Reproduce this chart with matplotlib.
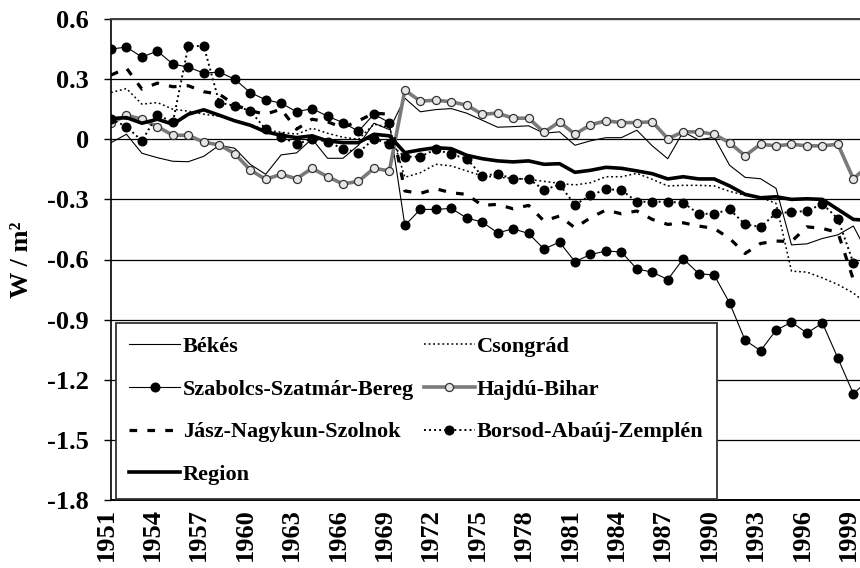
"""
Radiative forcing trend by county, 1951-1999 (W/m2).
Line chart re-drawn from the reference figure; values read off the picture.
The 2000 values only give the short clipped stub at the right edge.
"""

import numpy as np
import matplotlib
matplotlib.use("Agg")
import matplotlib.pyplot as plt
import matplotlib.transforms as mtransforms

OUT_PNG = "out.png"

years = list(range(1951, 2001))

bekes = [
    -0.017, 0.025, -0.07, -0.092, -0.11, -0.112, -0.085, -0.03, -0.045, -0.125,
    -0.175, -0.078, -0.068, 0.002, -0.095, -0.095, -0.03, 0.08, 0.048, 0.205,
    0.137, 0.148, 0.153, 0.13, 0.095, 0.06, 0.063, 0.067, 0.03, 0.037,
    -0.03, -0.008, 0.008, 0.008, 0.045, -0.033, -0.097, 0.037, -0.003, 0.01,
    -0.13, -0.19, -0.197, -0.245, -0.527, -0.522, -0.495, -0.477, -0.433, -0.58,
]
csongrad = [
    0.233, 0.253, 0.175, 0.183, 0.15, 0.14, 0.125, 0.115, 0.095, 0.075,
    0.045, 0.035, 0.025, 0.055, 0.03, 0.01, 0.0, 0.075, 0.06, -0.19,
    -0.167, -0.125, -0.133, -0.158, -0.183, -0.19, -0.195, -0.2, -0.21, -0.22,
    -0.228, -0.217, -0.187, -0.187, -0.17, -0.2, -0.233, -0.23, -0.23, -0.233,
    -0.26, -0.28, -0.29, -0.32, -0.658, -0.663, -0.692, -0.725, -0.767, -0.83,
]
szabolcs = [
    0.45, 0.46, 0.41, 0.44, 0.375, 0.36, 0.33, 0.335, 0.30, 0.233,
    0.197, 0.18, 0.137, 0.153, 0.115, 0.083, 0.04, 0.125, 0.083, -0.43,
    -0.35, -0.35, -0.345, -0.393, -0.413, -0.467, -0.447, -0.47, -0.548, -0.513,
    -0.611, -0.575, -0.558, -0.562, -0.647, -0.663, -0.70, -0.597, -0.67, -0.678,
    -0.817, -1.003, -1.055, -0.953, -0.913, -0.967, -0.917, -1.092, -1.27, -1.20,
]
hajdu = [
    0.08, 0.12, 0.10, 0.063, 0.02, 0.02, -0.015, -0.028, -0.072, -0.153,
    -0.20, -0.175, -0.197, -0.145, -0.187, -0.223, -0.21, -0.145, -0.158, 0.245,
    0.19, 0.195, 0.187, 0.17, 0.125, 0.13, 0.105, 0.105, 0.035, 0.087,
    0.025, 0.072, 0.092, 0.083, 0.083, 0.087, 0.003, 0.037, 0.037, 0.025,
    -0.018, -0.082, -0.025, -0.033, -0.025, -0.033, -0.033, -0.025, -0.197, -0.13,
]
jasz = [
    0.32, 0.355, 0.25, 0.28, 0.262, 0.267, 0.237, 0.225, 0.172, 0.142,
    0.125, 0.15, 0.05, 0.10, 0.087, 0.058, 0.092, 0.13, 0.125, -0.258,
    -0.27, -0.247, -0.267, -0.275, -0.33, -0.325, -0.347, -0.33, -0.408, -0.383,
    -0.442, -0.392, -0.353, -0.372, -0.358, -0.40, -0.425, -0.417, -0.433, -0.445,
    -0.495, -0.57, -0.52, -0.508, -0.51, -0.437, -0.445, -0.465, -0.70, -0.71,
]
borsod = [
    0.10, 0.063, -0.008, 0.122, 0.085, 0.465, 0.465, 0.183, 0.167, 0.142,
    0.05, 0.013, -0.025, 0.003, -0.013, -0.047, -0.067, 0.003, -0.025, -0.087,
    -0.087, -0.05, -0.075, -0.097, -0.183, -0.172, -0.198, -0.197, -0.253, -0.226,
    -0.327, -0.28, -0.25, -0.253, -0.312, -0.312, -0.312, -0.317, -0.372, -0.372,
    -0.35, -0.425, -0.437, -0.37, -0.363, -0.358, -0.322, -0.397, -0.617, -0.62,
]
region = [
    0.103, 0.108, 0.08, 0.10, 0.075, 0.125, 0.147, 0.12, 0.092, 0.07,
    0.037, 0.02, 0.008, 0.017, -0.008, -0.017, -0.017, 0.025, 0.017, -0.067,
    -0.053, -0.042, -0.047, -0.08, -0.097, -0.108, -0.113, -0.108, -0.125, -0.122,
    -0.165, -0.155, -0.14, -0.145, -0.158, -0.172, -0.198, -0.187, -0.198, -0.198,
    -0.233, -0.275, -0.292, -0.287, -0.30, -0.297, -0.30, -0.35, -0.40, -0.405,
]

y_ticks = [0.6, 0.3, 0.0, -0.3, -0.6, -0.9, -1.2, -1.5, -1.8]
y_tick_labels = ["0.6", "0.3", "0", "-0.3", "-0.6", "-0.9", "-1.2", "-1.5", "-1.8"]
x_ticks = list(range(1951, 2000, 3))


def main():
    plt.rcParams["font.family"] = ["Liberation Serif", "DejaVu Serif"]
    plt.rcParams["font.weight"] = "bold"

    W, H = 860, 568
    fig = plt.figure(figsize=(W / 100, H / 100), dpi=100)
    ax = fig.add_axes([111 / W, (H - 500) / H, (W - 111) / W, 481 / H])

    l_bekes, = ax.plot(years, bekes, color="black", lw=0.8, label="Békés")
    l_cson, = ax.plot(years, csongrad, color="black", lw=1.1,
                      linestyle=(0, (1.2, 1.8)), label="Csongrád")
    l_szab, = ax.plot(years, szabolcs, color="black", lw=0.8, marker="o",
                      ms=6.2, mfc="black", mec="black",
                      label="Szabolcs-Szatmár-Bereg")
    l_hajdu, = ax.plot(years, hajdu, color="#7a7a7a", lw=2.6, marker="o",
                       ms=5.8, mfc="#e6e6e6", mec="#333333", mew=0.9,
                       label="Hajdú-Bihar")
    l_jasz, = ax.plot(years, jasz, color="black", lw=2.3,
                      linestyle=(0, (2.4, 3.2)), label="Jász-Nagykun-Szolnok")
    l_bors, = ax.plot(years, borsod, color="black", lw=1.4,
                      linestyle=(0, (1, 1.6)), marker="o", ms=6.2,
                      mfc="black", mec="black", label="Borsod-Abaúj-Zemplén")
    l_reg, = ax.plot(years, region, color="black", lw=2.6, label="Region")

    ax.set_xlim(1951, 1999.43)
    ax.set_ylim(-1.8, 0.6)

    ax.set_yticks(y_ticks)
    ax.set_yticklabels(y_tick_labels)
    ax.set_xticks(x_ticks)
    ax.set_xticklabels([str(y) for y in x_ticks], rotation=90)

    ax.yaxis.grid(True, color="black", lw=0.9)
    ax.set_axisbelow(True)

    ax.spines["right"].set_visible(False)
    ax.spines["top"].set_color("#404040")
    ax.spines["top"].set_linewidth(1.4)
    ax.spines["left"].set_linewidth(1.2)
    ax.spines["bottom"].set_linewidth(1.4)

    ax.tick_params(axis="y", direction="out", length=5, width=1,
                   pad=11, labelsize=19)
    ax.tick_params(axis="x", direction="out", length=0, pad=6,
                   labelsize=19)
    # year labels sit a few pixels left of their category, as in the source
    shift = mtransforms.ScaledTranslation(-0.05, 0, fig.dpi_scale_trans)
    for t in ax.get_xticklabels():
        t.set_transform(t.get_transform() + shift)
    for t in ax.get_xticklabels() + ax.get_yticklabels():
        t.set_fontweight("bold")

    fig.text(22 / W, 1 - 260 / H, "W / m²", rotation=90, ha="center",
             va="center", fontsize=19, fontweight="bold")

    # column-first fill: left column then right column
    handles = [l_bekes, l_szab, l_jasz, l_reg, l_cson, l_hajdu, l_bors]
    leg = ax.legend(
        handles, [h.get_label() for h in handles],
        ncol=2, numpoints=1, loc="upper left",
        bbox_to_anchor=(116 / W, 1 - 499 / H, (717 - 116) / W, (499 - 323) / H),
        bbox_transform=fig.transFigure, mode="expand",
        fontsize=16, handlelength=2.3, handletextpad=0.1,
        columnspacing=0.5, labelspacing=1.0, borderpad=0.6,
        borderaxespad=0, fancybox=False, framealpha=1,
        edgecolor="#333333",
    )
    leg.get_frame().set_linewidth(1.3)
    for t in leg.get_texts():
        t.set_fontweight("bold")

    fig.savefig(OUT_PNG, dpi=100)
    plt.close(fig)


if __name__ == "__main__":
    main()
